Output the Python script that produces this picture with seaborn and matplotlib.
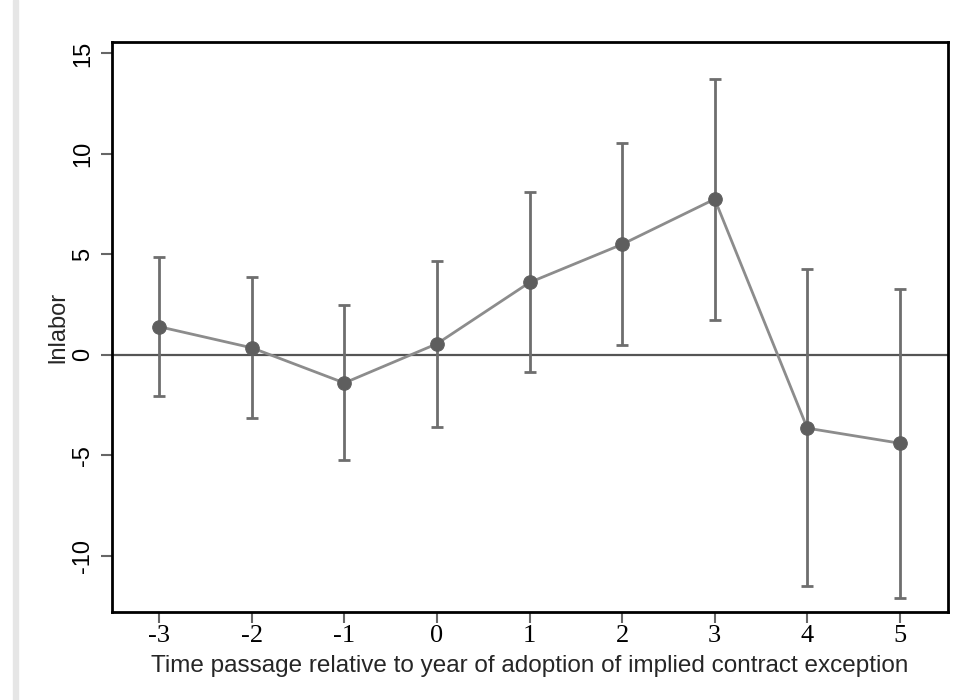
import matplotlib
matplotlib.use("Agg")
import matplotlib.pyplot as plt
import seaborn as sns
import pandas as pd
import numpy as np

periods = [-3, -2, -1, 0, 1, 2, 3, 4, 5]
coef = [1.4, 0.35, -1.4, 0.55, 3.6, 5.5, 7.75, -3.65, -4.4]
ci_upper = [4.85, 3.85, 2.5, 4.65, 8.1, 10.55, 13.75, 4.25, 3.3]
ci_lower = [-2.05, -3.15, -5.25, -3.6, -0.85, 0.5, 1.75, -11.5, -12.1]
yticks = [-10, -5, 0, 5, 10, 15]
xlabel = "Time passage relative to year of adoption of implied contract exception"
ylabel = "lnlabor"

df = pd.DataFrame({"period": periods, "coef": coef, "lo": ci_lower, "hi": ci_upper})

sns.set_theme(style="white")
plt.rcParams["font.family"] = ["Liberation Sans", "DejaVu Sans"]

fig = plt.figure(figsize=(9.67, 7.0), dpi=100)
ax = fig.add_axes([112 / 967, 1 - 612 / 700, (948 - 112) / 967, (612 - 42) / 700])

# light grey strip at left edge of the image
fig.patches.append(plt.Rectangle((13 / 967, 0), 5 / 967, 1, transform=fig.transFigure,
                                 color="#e6e6e6", zorder=0))

ax.axhline(0, color="#555555", lw=1.6, zorder=1)

cap = 0.065
ax.vlines(df["period"], df["lo"], df["hi"], color="#6e6e6e", lw=2, zorder=2)
ax.hlines(df["lo"], df["period"] - cap, df["period"] + cap, color="#6e6e6e", lw=2, zorder=2)
ax.hlines(df["hi"], df["period"] - cap, df["period"] + cap, color="#6e6e6e", lw=2, zorder=2)

sns.lineplot(data=df, x="period", y="coef", ax=ax, color="#8c8c8c", lw=2, zorder=3)
sns.scatterplot(data=df, x="period", y="coef", ax=ax, color="#5e5e5e", s=95,
                edgecolor="#5e5e5e", zorder=4)

ax.set_xlim(-3.51, 5.52)
ax.set_ylim(-12.8, 15.57)
ax.set_xticks(periods)
ax.set_xticklabels([str(p) for p in periods], fontfamily="Liberation Serif", fontsize=19)
ax.set_yticks(yticks)
ax.set_yticklabels([str(t) for t in yticks], rotation=90, va="center", fontsize=17)

ax.tick_params(axis="both", which="major", direction="out", length=8, width=1.5,
               color="#666666", bottom=True, left=True, labelcolor="black")
ax.tick_params(axis="x", pad=1)
ax.tick_params(axis="y", pad=5)

for s in ax.spines.values():
    s.set_color("black")
    s.set_linewidth(2)

ax.set_xlabel(xlabel, fontsize=17.5, labelpad=6)
ax.set_ylabel(ylabel, fontsize=17, labelpad=2)

fig.savefig("out.png", dpi=100)
